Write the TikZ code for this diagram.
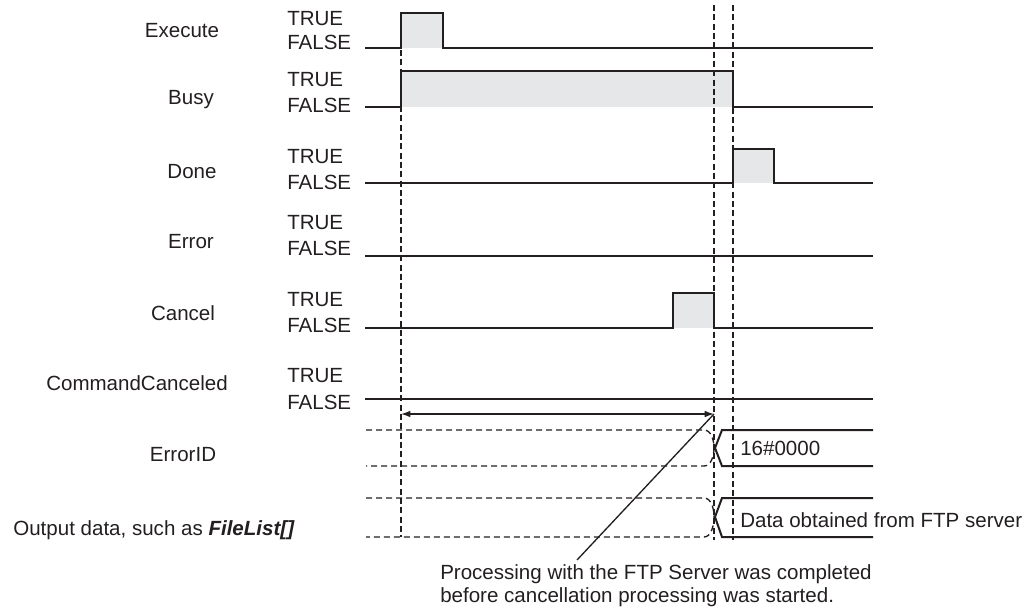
\documentclass[tikz,border=0pt]{standalone}
\usepackage{fontspec}
\setmainfont{Liberation Sans}
\usepackage{xcolor}
\usetikzlibrary{arrows.meta}

\definecolor{ink}{RGB}{35,31,32}
\definecolor{pulsefill}{RGB}{230,231,232}

\begin{document}
\begin{tikzpicture}[
      x=0.75pt, y=-0.75pt,
      every node/.style={font=\fontsize{15.4}{17.4}\selectfont, inner sep=0pt, text=ink},
      signame/.style={anchor=center},
      level/.style={anchor=west},
      wave/.style={draw=ink, line width=1.5pt},
      pulse/.style={fill=pulsefill},
      marker/.style={draw=ink, line width=1.2pt, dash pattern=on 4.5pt off 2.5pt},
      bus/.style={draw=ink, line width=1pt, dash pattern=on 4.5pt off 3pt},
      span/.style={draw=ink, line width=1pt, {Latex[length=7pt,width=5pt]}-{Latex[length=7pt,width=5pt]}},
      pointer/.style={draw=ink, line width=1pt}
    ]
    \useasboundingbox (0,0) rectangle (1035,613);

    % signal names
    \node[signame] (execute) at (182,31) {Execute};
    \node[signame] (busy) at (191,100) {Busy};
    \node[signame] (done) at (192,172) {Done};
    \node[signame] (error) at (191,242) {Error};
    \node[signame] (cancel) at (183,313) {Cancel};
    \node[signame] (cmdcanceled) at (137,383) {CommandCanceled};
    \node[signame] (errorid) at (183,455) {ErrorID};
    \node[signame] (outdata) at (154,530) {Output data, such as \textbf{\textit{FileList[]}}};

    % TRUE / FALSE levels
    \foreach \t/\f [count=\i] in {19/42, 80/105, 157/182, 223/248, 300/325, 376/402} {
      \node[level] (true\i) at (287,\t) {TRUE};
      \node[level] (false\i) at (287,\f) {FALSE};
    }

    % pulses
    \fill[pulse] (401,13) rectangle (443,48);
    \fill[pulse] (401,71) rectangle (733,107);
    \fill[pulse] (733,149) rectangle (774,183);
    \fill[pulse] (673,293) rectangle (714,328);

    % waveforms
    \draw[wave] (365,48) -- (401,48) -- (401,13) -- (443,13) -- (443,48) -- (873,48);
    \draw[wave] (365,107) -- (401,107) -- (401,71) -- (733,71) -- (733,107) -- (873,107);
    \draw[wave] (365,183) -- (733,183) -- (733,149) -- (774,149) -- (774,183) -- (873,183);
    \draw[wave] (365,256) -- (873,256);
    \draw[wave] (365,328) -- (673,328) -- (673,293) -- (714,293) -- (714,328) -- (873,328);
    \draw[wave] (365,399) -- (873,399);

    % buses
    \draw[bus] (366,430) -- (704,430) .. controls (711,430) and (714,440) .. (714,448)
      .. controls (714,456) and (711,466) .. (704,466) -- (366,466);
    \draw[wave] (873,430) -- (722,430) -- (715,448) -- (722,466) -- (873,466);
    \draw[bus] (366,498) -- (704,498) .. controls (711,498) and (714,508) .. (714,517)
      .. controls (714,526) and (711,537) .. (704,537) -- (366,537);
    \draw[wave] (873,498) -- (722,498) -- (715,517) -- (722,537) -- (873,537);
    \node[level] (idvalue) at (740,448) {16\#0000};
    \node[level] (datavalue) at (740,520) {Data obtained from FTP server};

    % time markers
    \draw[marker] (401,50) -- (401,537);
    \draw[marker] (714,5) -- (714,540);
    \draw[marker] (733,5) -- (733,540);

    % cancellation span
    \coordinate (spanstart) at (401,414);
    \coordinate (spanend) at (714,414);
    \draw[span] (spanstart) -- (spanend);

    \node[align=left, anchor=north west] (note) at (440,564)
      {Processing with the FTP Server was completed\\before cancellation processing was started.};
    \coordinate (notetip) at (577,560);
    \draw[pointer] (notetip) -- (spanend);
  \end{tikzpicture}
\end{document}
